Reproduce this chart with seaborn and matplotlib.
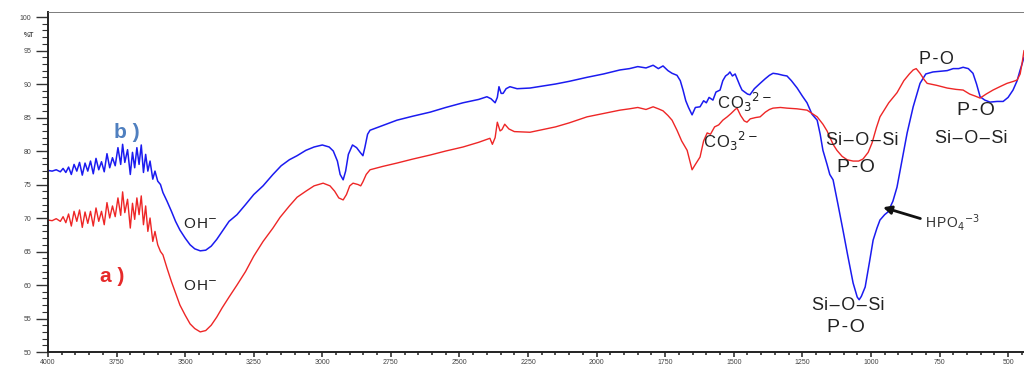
import numpy as np
import pandas as pd
import matplotlib
matplotlib.use("Agg")
import matplotlib.pyplot as plt
import seaborn as sns
from matplotlib.ticker import MultipleLocator
import matplotlib.transforms as mtransforms

# ---------------- data ----------------
wn_b = [4000, 3985, 3970, 3955, 3945, 3935, 3925, 3915, 3905, 3895, 3885, 3875, 3865, 3855, 3845,
        3835, 3825, 3815, 3805, 3795, 3785, 3775, 3765, 3755, 3745, 3735, 3728, 3720, 3710, 3700,
        3692, 3684, 3676, 3668, 3660, 3652, 3644, 3636, 3628, 3618, 3610, 3600, 3590, 3581, 3566,
        3550, 3535, 3519, 3500, 3482, 3465, 3445, 3425, 3405, 3385, 3365, 3340, 3311, 3280, 3250,
        3216, 3180, 3150, 3120, 3092, 3060, 3030, 3000, 2975, 2960, 2945, 2935, 2924, 2915, 2905,
        2890, 2875, 2862, 2852, 2845, 2835, 2826, 2780, 2728, 2670, 2607, 2550, 2487, 2430, 2400,
        2385, 2370, 2362, 2356, 2348, 2341, 2330, 2316, 2290, 2243, 2150, 2100, 2035, 1975, 1915,
        1880, 1850, 1820, 1794, 1775, 1758, 1740, 1725, 1707, 1695, 1685, 1675, 1665, 1652, 1640,
        1623, 1610, 1600, 1590, 1576, 1565, 1550, 1540, 1530, 1520, 1514, 1505, 1495, 1488, 1478,
        1470, 1460, 1450, 1441, 1425, 1404, 1385, 1370, 1357, 1340, 1320, 1306, 1290, 1269, 1250,
        1233, 1215, 1196, 1185, 1175, 1160, 1150, 1138, 1120, 1102, 1085, 1065, 1050, 1043, 1035,
        1021, 1005, 992, 978, 967, 950, 938, 920, 905, 885, 868, 846, 821, 800, 774,
        750, 722, 700, 680, 664, 645, 628, 615, 602, 585, 566, 540, 518, 500, 482,
        467, 456, 449, 442]
t_b = [77.1, 77.0, 77.2, 76.9, 77.4, 76.8, 77.6, 76.5, 78.0, 77.0, 78.3, 76.4, 78.2, 77.0, 78.5,
       76.6, 78.9, 77.2, 78.4, 76.9, 79.6, 77.5, 79.0, 77.8, 80.5, 78.0, 81.0, 78.3, 80.2, 76.5,
       79.8, 77.5, 80.5, 78.0, 80.9, 76.8, 79.5, 77.0, 78.5, 75.8, 77.0, 75.5, 75.0, 73.8, 72.5,
       71.0, 69.5, 68.2, 67.0, 66.0, 65.4, 65.1, 65.2, 65.8, 66.8, 68.0, 69.5, 70.5, 72.0, 73.5,
       74.8, 76.5, 77.8, 78.7, 79.3, 80.1, 80.6, 80.9, 80.6, 80.0, 78.5, 76.5, 75.7, 77.0, 79.5,
       80.9, 80.5, 79.8, 79.3, 80.5, 82.5, 83.1, 83.8, 84.6, 85.2, 85.8, 86.5, 87.2, 87.7, 88.1,
       87.8, 87.2, 88.0, 89.6, 88.6, 88.6, 89.3, 89.6, 89.3, 89.4, 90.0, 90.4, 91.0, 91.5, 92.1,
       92.3, 92.6, 92.4, 92.8, 92.3, 92.7, 92.0, 91.6, 91.3, 90.5, 89.1, 87.5, 86.5, 85.4, 86.5,
       86.6, 87.5, 87.2, 88.0, 87.6, 88.8, 89.1, 90.5, 91.2, 91.5, 91.8, 91.2, 91.5, 90.8, 89.8,
       89.1, 88.8, 88.5, 88.4, 89.3, 90.1, 90.8, 91.3, 91.6, 91.5, 91.3, 91.2, 90.5, 89.4, 88.2,
       87.2, 85.5, 84.6, 82.5, 80.1, 78.0, 76.5, 75.7, 72.0, 68.2, 64.5, 60.3, 58.2, 57.8, 58.3,
       59.7, 63.5, 66.7, 68.5, 69.7, 70.5, 70.9, 72.5, 74.6, 79.0, 82.7, 86.6, 90.1, 91.5, 91.8,
       91.9, 92.0, 92.3, 92.3, 92.5, 92.3, 91.6, 90.0, 88.1, 87.6, 87.3, 87.4, 87.4, 88.0, 89.1,
       90.5, 92.1, 93.0, 94.0]

wn_a = [4000, 3985, 3970, 3955, 3945, 3935, 3925, 3915, 3905, 3895, 3885, 3875, 3865, 3855, 3845,
        3835, 3825, 3815, 3805, 3795, 3785, 3775, 3765, 3755, 3745, 3735, 3728, 3720, 3710, 3700,
        3692, 3684, 3676, 3668, 3660, 3652, 3644, 3636, 3628, 3618, 3610, 3600, 3590, 3581, 3566,
        3550, 3535, 3519, 3500, 3482, 3465, 3445, 3425, 3405, 3385, 3365, 3340, 3311, 3280, 3250,
        3216, 3180, 3154, 3120, 3092, 3060, 3030, 2997, 2972, 2955, 2940, 2924, 2912, 2900, 2888,
        2870, 2860, 2852, 2840, 2826, 2780, 2728, 2670, 2607, 2550, 2487, 2430, 2389, 2380, 2370,
        2362, 2352, 2345, 2335, 2320, 2300, 2243, 2150, 2100, 2035, 1975, 1915, 1880, 1850, 1820,
        1794, 1775, 1758, 1740, 1725, 1707, 1690, 1670, 1660, 1652, 1640, 1623, 1610, 1597, 1585,
        1570, 1555, 1540, 1524, 1510, 1495, 1488, 1475, 1462, 1452, 1440, 1420, 1404, 1385, 1370,
        1357, 1330, 1306, 1270, 1233, 1196, 1175, 1160, 1138, 1124, 1105, 1087, 1065, 1045, 1029,
        1010, 996, 980, 967, 935, 905, 880, 860, 846, 835, 821, 805, 795, 760, 722,
        690, 664, 640, 620, 602, 580, 555, 530, 504, 480, 467, 456, 449, 442]
t_a = [69.7, 69.6, 69.9, 69.5, 70.2, 69.3, 70.6, 68.8, 71.0, 69.5, 71.2, 68.6, 70.9, 69.2, 71.0,
       68.8, 71.5, 69.5, 71.0, 69.0, 72.3, 70.0, 71.8, 70.2, 73.0, 70.4, 73.9, 70.8, 72.8, 68.5,
       72.2, 69.8, 73.0, 70.5, 73.3, 69.0, 71.8, 68.0, 70.0, 66.5, 68.0, 66.0, 65.0, 64.5, 62.5,
       60.5, 58.8, 57.0, 55.5, 54.2, 53.5, 53.0, 53.2, 54.0, 55.2, 56.6, 58.2, 60.0, 62.0, 64.3,
       66.5, 68.5, 70.1, 71.8, 73.1, 74.0, 74.8, 75.2, 74.8, 74.0, 73.0, 72.7, 73.5, 74.8, 75.2,
       75.0, 74.8, 75.4, 76.5, 77.2, 77.7, 78.2, 78.8, 79.4, 80.0, 80.6, 81.3, 81.9, 81.0, 82.0,
       84.3, 83.0, 83.2, 84.0, 83.3, 82.9, 82.8, 83.6, 84.2, 85.1, 85.6, 86.1, 86.3, 86.5, 86.2,
       86.6, 86.3, 86.0, 85.3, 84.6, 83.1, 81.5, 80.1, 78.5, 77.2, 78.0, 79.1, 81.5, 82.7, 82.5,
       83.6, 83.9, 84.6, 85.1, 85.6, 86.2, 86.4, 85.3, 84.5, 84.3, 84.8, 85.0, 85.1, 85.8, 86.2,
       86.4, 86.5, 86.4, 86.3, 86.1, 85.1, 84.0, 83.0, 81.0, 80.1, 79.2, 78.7, 78.5, 78.5, 78.8,
       79.8, 81.2, 83.5, 85.1, 87.2, 88.7, 90.5, 91.5, 92.1, 92.3, 91.6, 90.6, 90.1, 89.8, 89.4,
       89.2, 89.1, 88.5, 88.2, 87.9, 88.5, 89.1, 89.6, 90.1, 90.4, 90.6, 91.5, 93.1, 95.0]

x_ticks = [4000, 3750, 3500, 3250, 3000, 2750, 2500, 2250, 2000, 1750, 1500, 1250, 1000, 750, 500]
y_ticks = [50, 55, 60, 65, 70, 75, 80, 85, 90, 95, 100]

# ---------------- figure ----------------
sns.set_style("white")
plt.rcParams['font.family'] = ['Liberation Sans', 'DejaVu Sans']

fig = plt.figure(figsize=(10.24, 3.65), dpi=100)
ax = fig.add_axes([48 / 1024, 13 / 365, 976 / 1024, 340 / 365])

df_b = pd.DataFrame({"wn": wn_b, "T": t_b})
df_a = pd.DataFrame({"wn": wn_a, "T": t_a})
sns.lineplot(data=df_b, x="wn", y="T", ax=ax, color="#1b1bf0", lw=1.1, estimator=None, sort=False)
sns.lineplot(data=df_a, x="wn", y="T", ax=ax, color="#ee2626", lw=1.0, estimator=None, sort=False)

ax.set_xlim(4000, 442)
ax.set_ylim(50, 100.75)
ax.set_xlabel("")
ax.set_ylabel("")

ax.set_xticks(x_ticks)
ax.set_xticklabels([str(v) for v in x_ticks])
ax.xaxis.set_minor_locator(MultipleLocator(50))
ax.set_yticks(y_ticks)
ax.set_yticklabels([str(v) for v in y_ticks])
ax.yaxis.set_minor_locator(MultipleLocator(1))

ax.tick_params(axis="y", which="major", direction="out", length=9, width=1.0,
               labelsize=5, labelcolor="#444444", pad=3, color="#333333", left=True)
ax.tick_params(axis="y", which="minor", direction="out", length=4.5, width=0.8,
               color="#333333", left=True)
ax.tick_params(axis="x", which="major", direction="out", length=3.5, width=1.2,
               labelsize=5, labelcolor="#444444", pad=1.5, color="#333333", bottom=True)
ax.tick_params(axis="x", which="minor", direction="out", length=2.5, width=1.2,
               color="#333333", bottom=True)

for s in ["left", "bottom"]:
    ax.spines[s].set_color("#222222")
    ax.spines[s].set_linewidth(1.4)
ax.spines["top"].set_color("#666666")
ax.spines["top"].set_linewidth(0.6)
ax.spines["right"].set_visible(False)

trans = mtransforms.blended_transform_factory(ax.transAxes, ax.transData)
ax.text(-0.014, 97.3, "%T", transform=trans, ha="right", va="center",
        fontsize=5, color="#444444", fontweight="bold")

# ---------------- annotations ----------------
tc = "#222222"
hs = "\u200a"
ax.text(3712, 82.7, "b )", color="#4f7fbf", fontsize=15, fontweight="bold", ha="center", va="center")
ax.text(3767, 61.2, "a )", color="#e62a2a", fontsize=15, fontweight="bold", ha="center", va="center")
oh = "O" + hs + "H$^{-}$"
ax.text(3446, 69.0, oh, color=tc, fontsize=11, ha="center", va="center")
ax.text(3446, 59.7, oh, color=tc, fontsize=11, ha="center", va="center")
co3 = "C" + hs + "O$_{3}$$^{2-}$"
ax.text(1561, 87.3, co3, color=tc, fontsize=12, ha="left", va="center")
ax.text(1612, 81.5, co3, color=tc, fontsize=12, ha="left", va="center")
siosi = "Si" + hs + "\u2013" + hs + "O" + hs + "\u2013" + hs + "Si"
po = "P" + hs + "-" + hs + "O"
ax.text(1032, 81.5, siosi, color=tc, fontsize=13, ha="center", va="center")
ax.text(1054, 77.5, po, color=tc, fontsize=14, ha="center", va="center")
ax.text(766, 81.8, siosi, color=tc, fontsize=13, ha="left", va="center")
ax.text(617, 86.0, po, color=tc, fontsize=14, ha="center", va="center")
ax.text(763, 93.7, po, color=tc, fontsize=13, ha="center", va="center")
ax.text(1083, 57.0, siosi, color=tc, fontsize=13, ha="center", va="center")
ax.text(1091, 53.6, po, color=tc, fontsize=14, ha="center", va="center")
ax.annotate("H" + hs + "P" + hs + "O$_4$$^{-3}$", xy=(956, 71.6), xytext=(803, 69.4),
            fontsize=10, color="#333333", ha="left", va="center",
            arrowprops=dict(arrowstyle="-|>", color="#111111", lw=2.0,
                            mutation_scale=12, relpos=(0.0, 0.6), shrinkA=1, shrinkB=0))

fig.savefig("out.png", dpi=100)
